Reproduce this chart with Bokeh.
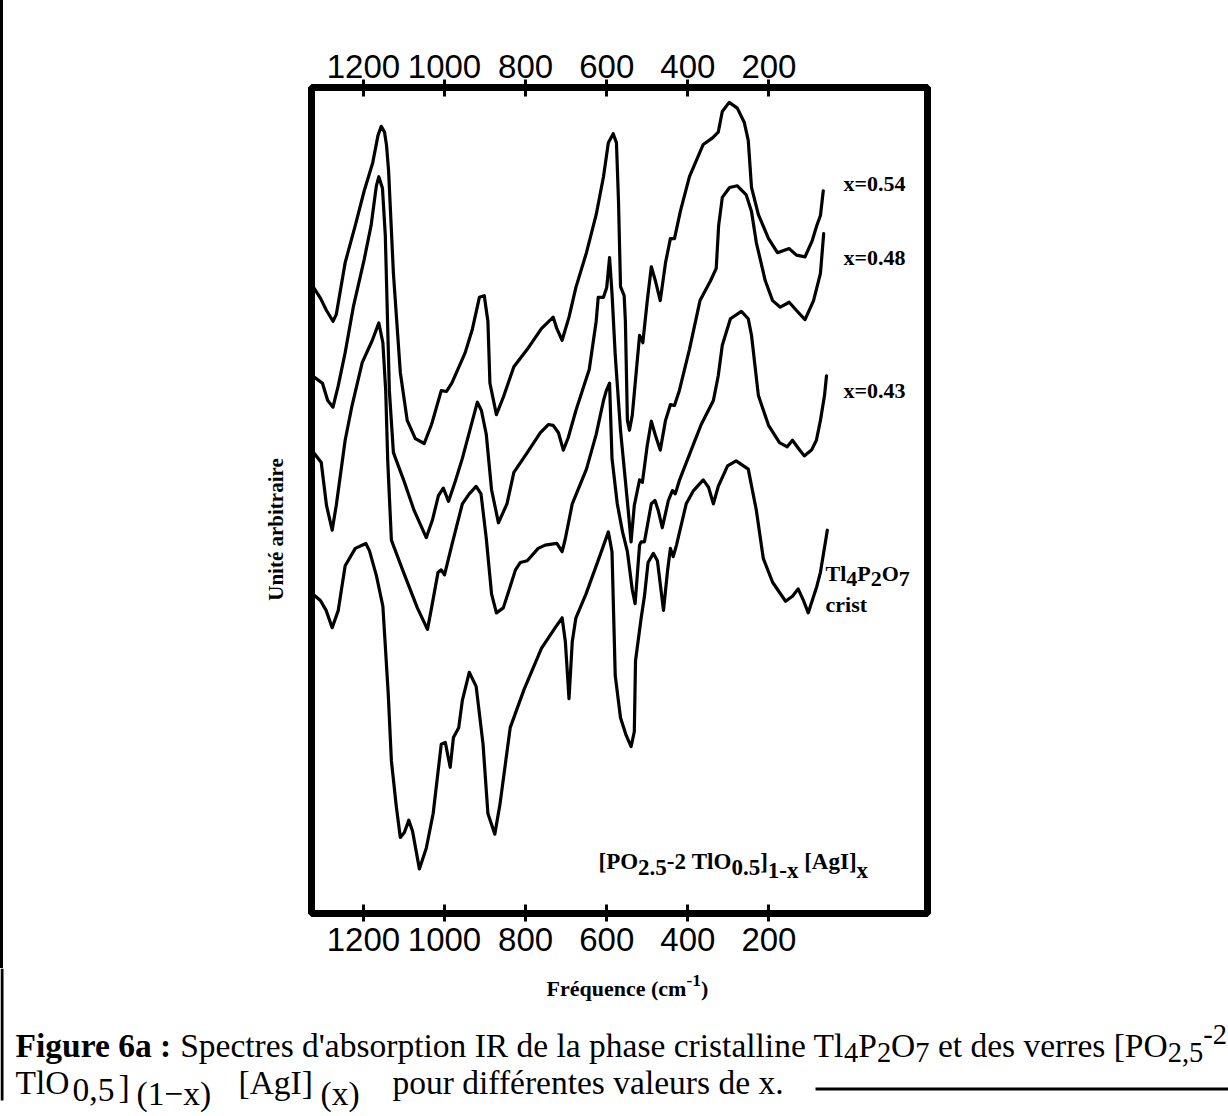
import math
from bokeh.plotting import figure
from bokeh.layouts import column, row
from bokeh.models import Range1d, LinearAxis, FixedTicker, Label, BoxAnnotation, Div
from bokeh.embed import file_html
from bokeh.resources import INLINE

# ---------------- data ----------------
tick_values = [1200, 1000, 800, 600, 400, 200]
series_names = ["x=0.54", "x=0.48", "x=0.43", "Tl4P2O7 crist"]

wn_x054 = [1323, 1306, 1291, 1275, 1267, 1245, 1220, 1198, 1177, 1164, 1156, 1148, 1143, 1138, 1126,
           1109, 1092, 1072, 1050, 1032, 1008, 995, 982, 949, 931, 914, 902, 893, 888, 872,
           855, 829, 796, 761, 732, 723, 710, 693, 676, 650, 626, 608, 596, 584, 576,
           571, 566, 557, 554, 549, 544, 537, 527, 519, 511, 500, 490, 480, 468, 455,
           443, 433, 418, 396, 362, 339, 325, 315, 298, 278, 261, 251, 243, 226, 201,
           179, 162, 150, 132, 111, 93, 82, 73, 66]
ab_x054 = [75.8, 74.5, 73.0, 71.7, 72.5, 78.8, 83.3, 87.5, 90.9, 94.2, 95.3, 94.6, 93.0, 90.0, 77.5,
           65.5, 59.7, 57.5, 56.9, 59.2, 63.3, 63.2, 64.2, 67.9, 70.8, 74.6, 74.8, 71.7, 64.2, 60.4,
           62.5, 66.2, 68.3, 70.8, 72.2, 70.8, 69.4, 72.2, 75.8, 80.0, 84.6, 89.2, 93.3, 94.4, 93.3,
           86.3, 75.9, 74.8, 71.7, 59.7, 58.5, 60.3, 65.7, 70.0, 69.1, 74.2, 78.3, 76.6, 74.2, 78.8,
           81.7, 81.7, 85.1, 89.2, 93.1, 93.9, 94.6, 97.1, 98.2, 97.5, 95.8, 93.6, 87.9, 84.6, 81.7,
           80.0, 80.3, 80.5, 79.7, 79.5, 81.5, 83.3, 84.5, 87.5]

wn_x048 = [1323, 1301, 1288, 1275, 1262, 1245, 1225, 1198, 1181, 1168, 1162, 1153, 1146, 1136, 1126,
           1101, 1075, 1045, 1030, 1015, 1003, 990, 973, 956, 931, 919, 909, 897, 884, 867,
           846, 829, 796, 764, 744, 732, 719, 707, 695, 676, 643, 626, 621, 608, 600,
           593, 587, 579, 566, 554, 547, 540, 532, 519, 512, 500, 490, 480, 468, 455,
           443, 433, 421, 396, 370, 344, 330, 324, 315, 297, 278, 256, 243, 231, 209,
           191, 172, 150, 132, 111, 90, 73, 65]
ab_x048 = [65.0, 64.2, 62.1, 61.3, 63.9, 67.9, 73.4, 79.2, 83.3, 88.1, 89.2, 87.8, 82.1, 63.3, 55.8,
           52.5, 48.8, 45.5, 47.6, 50.6, 51.5, 49.9, 52.4, 55.1, 59.7, 61.9, 60.9, 58.0, 51.3, 47.3,
           49.6, 53.4, 55.8, 58.2, 59.2, 59.1, 58.2, 56.1, 57.6, 60.9, 65.9, 71.7, 74.6, 74.6, 75.8,
           79.4, 75.1, 67.6, 58.5, 52.4, 48.8, 45.0, 49.4, 52.5, 52.2, 56.7, 59.6, 57.9, 56.1, 59.7,
           61.6, 61.5, 63.3, 68.3, 74.2, 76.6, 78.1, 83.3, 86.7, 87.9, 88.1, 87.0, 85.0, 81.2, 76.6,
           74.2, 73.4, 74.0, 73.0, 71.9, 74.2, 77.5, 82.3]

wn_x043 = [1323, 1304, 1291, 1277, 1267, 1245, 1228, 1203, 1178, 1162, 1152, 1145, 1140, 1131, 1101,
           1067, 1042, 1032, 1016, 1008, 1000, 982, 956, 939, 922, 910, 897, 884, 872, 855,
           838, 825, 813, 796, 769, 752, 723, 710, 702, 685, 650, 626, 608, 601, 593,
           587, 574, 561, 549, 537, 530, 519, 515, 507, 490, 481, 473, 463, 448, 438,
           431, 421, 387, 367, 337, 325, 315, 295, 268, 251, 243, 226, 201, 174, 155,
           142, 127, 113, 95, 83, 73, 63, 58]
ab_x043 = [55.8, 54.6, 49.4, 46.4, 49.4, 57.3, 61.5, 66.7, 69.4, 71.5, 69.1, 63.3, 54.8, 45.2, 41.3,
           37.0, 34.4, 37.0, 41.3, 41.6, 41.0, 44.6, 49.6, 50.8, 51.7, 50.8, 45.4, 38.7, 36.4, 37.0,
           39.6, 41.6, 42.5, 42.7, 44.2, 44.6, 44.8, 43.8, 45.4, 49.6, 53.8, 58.0, 62.1, 63.3, 64.2,
           55.1, 49.6, 46.2, 43.8, 39.2, 37.5, 44.6, 45.0, 45.0, 49.6, 50.0, 48.8, 46.7, 50.0, 51.2,
           50.8, 52.4, 56.7, 59.2, 62.1, 65.1, 68.8, 72.0, 72.9, 72.0, 70.0, 62.7, 59.1, 57.0, 56.5,
           57.3, 56.3, 55.4, 56.1, 57.3, 59.7, 62.7, 65.1]

wn_crist = [1323, 1306, 1292, 1277, 1262, 1245, 1220, 1194, 1185, 1168, 1152, 1139, 1131, 1119, 1109,
            1099, 1088, 1079, 1062, 1045, 1028, 1008, 998, 986, 978, 965, 956, 939, 922, 905,
            893, 876, 863, 838, 804, 761, 727, 710, 702, 693, 685, 676, 651, 617, 596,
            587, 579, 566, 553, 540, 532, 529, 515, 507, 498, 485, 475, 460, 450, 443,
            436, 428, 404, 386, 362, 349, 337, 325, 302, 281, 251, 231, 214, 191, 159,
            142, 128, 115, 103, 82, 73, 56]
ab_crist = [38.6, 37.9, 36.7, 34.6, 36.7, 42.1, 44.2, 44.8, 43.9, 40.9, 37.2, 26.8, 18.5, 13.0, 9.2,
            9.8, 11.3, 10.0, 5.4, 7.9, 12.1, 20.5, 20.7, 17.7, 21.3, 22.5, 25.8, 29.2, 27.5, 20.5,
            12.1, 9.6, 13.3, 22.5, 27.1, 32.1, 34.6, 35.8, 32.9, 26.0, 32.9, 35.8, 38.7, 43.3, 46.2,
            43.8, 28.8, 23.7, 21.7, 20.2, 22.0, 30.6, 35.8, 38.4, 42.5, 43.6, 42.7, 36.7, 41.5, 44.2,
            43.2, 44.6, 49.6, 51.2, 52.5, 51.6, 49.6, 51.7, 54.2, 54.8, 53.8, 48.8, 43.0, 40.1, 37.8,
            38.4, 39.3, 37.9, 36.4, 39.6, 41.3, 46.4]

# ---------------- layout constants (page pixels) ----------------
PAGE_W = 1228
BAR_W = 3             # outer left rule of the figure box
LEFT_W = 290          # page x where the chart canvas starts
TOP_H = 968           # height of the chart row
BOT_H = 144           # caption strip
FRAME_L, FRAME_T, FRAME_W, FRAME_H = 311, 87, 616, 826
FRAME_B = FRAME_T + FRAME_H

SERIF = "'Liberation Serif', 'Times New Roman', serif"
TICKFONT = "'Liberation Sans Narrow', 'Liberation Sans', Arial, sans-serif"

TR = {' ': 250, "'": 180, '(': 333, ')': 333, ',': 250, '-': 333, '.': 250, ':': 278, '=': 564,
      '[': 333, ']': 333, '\u2212': 564,
      'A': 722, 'F': 556, 'I': 333, 'O': 722, 'P': 556, 'R': 667, 'S': 556, 'T': 611, 'U': 722,
      'a': 444, 'b': 500, 'c': 444, 'd': 500, 'e': 444, 'f': 333, 'g': 500, 'h': 500, 'i': 278,
      'l': 278, 'm': 778, 'n': 500, 'o': 500, 'p': 500, 'q': 500, 'r': 333, 's': 389, 't': 278,
      'u': 500, 'v': 500, 'x': 500, '\u00e9': 444}
TB = {' ': 250, '(': 333, ')': 333, ',': 250, '-': 333, '.': 250, ':': 333, '=': 570,
      '[': 333, ']': 333,
      'A': 722, 'F': 611, 'I': 389, 'O': 778, 'P': 611, 'T': 667, 'U': 722,
      'a': 500, 'b': 556, 'c': 444, 'e': 444, 'g': 500, 'i': 278, 'l': 278, 'm': 833, 'n': 556,
      'q': 556, 'r': 444, 's': 389, 't': 333, 'u': 556, 'x': 500, '\u00e9': 444}


def text_width(s, size, bold):
    tab = TB if bold else TR
    return sum(tab.get(ch, 500) for ch in s) * size / 1000.0


def make_label(fig, x, y, text, size, bold, units, align="left", baseline="alphabetic", angle=0.0):
    fig.add_layout(Label(x=x, y=y, x_units=units, y_units=units, text=text, text_font=SERIF,
                         text_font_size=f"{size:.1f}px",
                         text_font_style="bold" if bold else "normal",
                         text_align=align, text_baseline=baseline, angle=angle,
                         text_color="black"))


def compose(fig, x, y, pieces, size, units, x_shift=0.0):
    """pieces: (text, bold, dy, scale[, absolute page x]); spaces at the ends become gaps."""
    for piece in pieces:
        text, bold, dy, sc = piece[:4]
        if len(piece) > 4:
            x = piece[4]
        fs = size * sc
        body = text.lstrip(' ')
        x += text_width(text[:len(text) - len(body)], fs, bold)
        shown = body.rstrip(' ')
        if shown:
            make_label(fig, x - x_shift, y + dy, shown, fs, bold, units)
        x += text_width(body, fs, bold)
    return x


def compose_width(pieces, size):
    return sum(text_width(t, size * sc, b) for t, b, dy, sc in pieces)


def bar(fig, x0, y0, x1, y1):
    fig.add_layout(BoxAnnotation(left=x0, right=x1, top=y0, bottom=y1,
                                 fill_color="black", fill_alpha=1.0, line_color=None))


# ---------------- main chart ----------------
p = figure(frame_width=FRAME_W, frame_height=FRAME_H, output_backend="svg", toolbar_location=None,
           x_range=Range1d(1328, -191), y_range=Range1d(0, 100),
           y_axis_location=None,
           min_border_left=FRAME_L - LEFT_W,
           min_border_right=PAGE_W - FRAME_L - FRAME_W,
           min_border_top=FRAME_T,
           min_border_bottom=TOP_H - FRAME_B)
p.xgrid.visible = False
p.ygrid.visible = False
p.outline_line_color = "black"
p.outline_line_width = 7
p.outline_line_alpha = 1.0
p.background_fill_color = "white"
p.border_fill_color = "white"

top_axis = LinearAxis()
p.add_layout(top_axis, "above")
bottom_axis = p.below[0]
for ax in (top_axis, bottom_axis):
    ax.ticker = FixedTicker(ticks=tick_values)
    ax.axis_line_color = None
    ax.major_tick_line_color = "black"
    ax.major_tick_line_width = 3
    ax.major_tick_in = 9
    ax.major_tick_out = 8
    ax.minor_tick_line_color = None
    ax.major_label_text_font = TICKFONT
    ax.major_label_text_font_size = "33px"
    ax.major_label_text_color = "black"
top_axis.major_label_standoff = 2
bottom_axis.major_label_standoff = 6

for wn, ab in ((wn_x054, ab_x054), (wn_x048, ab_x048), (wn_x043, ab_x043), (wn_crist, ab_crist)):
    p.line(wn, ab, line_color="black", line_width=3.2, line_join="round", line_cap="round")


def main_label(px, py, text, size, bold=True):
    make_label(p, px - LEFT_W, py, text, size, bold, "canvas")


main_label(843, 183, series_names[0], 22)
main_label(843, 257, series_names[1], 22)
main_label(843, 390, series_names[2], 22)
compose(p, 825, 573,
        [("Tl", True, 0, 1), ("4", True, 5, 1), ("P", True, 0, 1), ("2", True, 5, 1),
         ("O", True, 0, 1), ("7", True, 5, 1)], 22, "canvas", x_shift=LEFT_W)
main_label(825, 604, "crist", 22)

formula = [("[PO", True, 0, 1), ("2.5", True, 6, 1), ("-2 ", True, 0, 1), ("TlO", True, 0, 1),
           ("0.5", True, 6, 1), ("]", True, 0, 1), ("1-x", True, 9, 1), (" [AgI]", True, 0, 1),
           ("x", True, 9, 1)]
compose(p, 598, 861, formula, 23, "canvas", x_shift=LEFT_W)

# ---------------- left strip: outer rule + y title ----------------
rule = Div(text="", width=BAR_W, height=TOP_H, margin=0, styles={"background-color": "black"})
left = figure(width=LEFT_W - BAR_W, height=TOP_H, output_backend="svg", toolbar_location=None,
              x_range=Range1d(BAR_W, LEFT_W), y_range=Range1d(FRAME_B, FRAME_T),
              x_axis_location=None, y_axis_location=None,
              min_border_left=0, min_border_right=0,
              min_border_top=FRAME_T, min_border_bottom=TOP_H - FRAME_B)
left.xgrid.visible = False
left.ygrid.visible = False
left.outline_line_color = None
left.background_fill_color = "white"
left.border_fill_color = "white"
make_label(left, 275, 529, "Unit\u00e9 arbitraire", 21, True, "data",
           align="center", baseline="middle", angle=math.pi / 2)

# ---------------- bottom strip: x title and caption ----------------
bot = figure(width=PAGE_W, height=BOT_H, output_backend="svg", toolbar_location=None,
             x_range=Range1d(0, PAGE_W), y_range=Range1d(TOP_H + BOT_H, TOP_H),
             x_axis_location=None, y_axis_location=None, min_border=0)
bot.xgrid.visible = False
bot.ygrid.visible = False
bot.outline_line_color = None
bot.background_fill_color = "white"
bot.border_fill_color = "white"

freq = [("Fr\u00e9quence (cm", True, 0, 1), ("-1", True, -8, 0.8), (")", True, 0, 1)]
fw = compose_width(freq, 22)
compose(bot, 627 - fw / 2, 988, freq, 22, "data")

CAP = 33.5
line1 = [("Figure 6a :", True, 0, 1),
         (" Spectres d'absorption IR de la phase cristalline Tl", False, 0, 1),
         ("4", False, 7, 0.85), ("P", False, 0, 1), ("2", False, 7, 0.85), ("O", False, 0, 1),
         ("7", False, 7, 0.85), (" et des verres [PO", False, 0, 1), ("2,5", False, 7, 0.85),
         ("-2", False, -11, 0.85)]
compose(bot, 15, 1045, line1, CAP, "data")
line2 = [("TlO", False, 0, 1), ("0,5", False, 7, 1.0, 72), ("]", False, 4, 1, 118),
         ("(1\u2212x)", False, 11, 1.0, 136), ("[AgI]", False, 0, 1, 238),
         ("(x)", False, 11, 1.0, 320), ("pour diff\u00e9rentes valeurs de x.", False, 0, 1, 392)]
compose(bot, 15, 1082, line2, CAP, "data")
bar(bot, 0, TOP_H, BAR_W, 1100)
bar(bot, 815, 1087, PAGE_W, 1090)

layout = column(row(rule, left, p), bot)
open("out.html", "w").write(file_html(layout, INLINE))
